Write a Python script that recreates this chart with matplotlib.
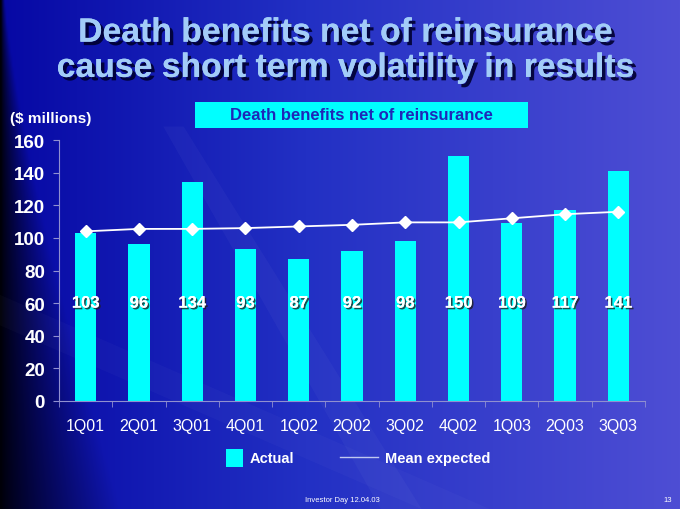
import numpy as np
import matplotlib.pyplot as plt
import matplotlib.patheffects as pe
from matplotlib.patches import Rectangle, Polygon
from matplotlib.lines import Line2D

plt.rcParams['font.family'] = ['Liberation Sans', 'DejaVu Sans']

# Datos
quarters = ['1Q01', '2Q01', '3Q01', '4Q01', '1Q02', '2Q02', '3Q02', '4Q02', '1Q03', '2Q03', '3Q03']
actual = [103, 96, 134, 93, 87, 92, 98, 150, 109, 117, 141]
mean_expected = [104, 105.5, 105.5, 106, 107, 108, 109.5, 109.5, 112, 114.5, 116]

cyan = '#00FFFF'
title_col = '#A2CCF8'

fig = plt.figure(figsize=(6.8, 5.1), dpi=100)

# Fondo degradado
bg = fig.add_axes([0, 0, 1, 1])
nx, ny = 340, 255
xx, yy = np.meshgrid(np.linspace(0, 1, nx), np.linspace(1, 0, ny))
c_left = np.array([0x06, 0x08, 0xA4]) / 255
c_mid = np.array([0x22, 0x30, 0xC4]) / 255
c_right = np.array([0x4E, 0x4E, 0xD4]) / 255
t = xx[..., None]
base = np.where(t < 0.45, c_left + (c_mid - c_left) * (t / 0.45),
                c_mid + (c_right - c_mid) * ((t - 0.45) / 0.55))
w = 0.006 + 0.17 * (1 - yy[..., None]) ** 1.3
dark = np.clip(xx[..., None] / w, 0, 1) ** 0.8
img = base * (0.05 + 0.95 * dark)
bg.imshow(img, aspect='auto', extent=[0, 1, 0, 1], interpolation='bilinear')
# vetas claras diagonales (suaves)
bg.add_patch(Polygon([[0.24, 0.75], [0.27, 0.75], [0.62, 0.0], [0.56, 0.0]],
                     closed=True, facecolor='white', alpha=0.03, edgecolor='none'))
bg.add_patch(Polygon([[0.0, 0.42], [0.0, 0.36], [0.62, 0.0], [0.72, 0.0]],
                     closed=True, facecolor='white', alpha=0.025, edgecolor='none'))
bg.set_xlim(0, 1)
bg.set_ylim(0, 1)
bg.axis('off')

# Titulo
shadow = [pe.withSimplePatchShadow(offset=(2.5, -2.5), shadow_rgbFace='#000030', alpha=0.9), pe.Normal()]
fig.text(0.508, 0.933, 'Death benefits net of reinsurance', ha='center', va='center',
         fontsize=24.3, fontweight='bold', color=title_col, path_effects=shadow)
fig.text(0.508, 0.864, 'cause short term volatility in results', ha='center', va='center',
         fontsize=24.3, fontweight='bold', color=title_col, path_effects=shadow)

# Caja
fig.patches.append(Rectangle((195 / 680, 1 - 129 / 510), 333 / 680, 26 / 510,
                             transform=fig.transFigure, facecolor=cyan, edgecolor='none'))
fig.text(361 / 680, 1 - 116 / 510, 'Death benefits net of reinsurance', ha='center', va='center',
         fontsize=12, fontweight='bold', color='#1E28B8')
fig.text(10 / 680, 1 - 119 / 510, '($ millions)', ha='left', va='center',
         fontsize=11, fontweight='bold', color='white')

# Grafico
ax = fig.add_axes([59 / 680, 108 / 510, 586 / 680, 261 / 510])
ax.set_facecolor('none')
x = np.arange(len(quarters))
ax.bar(x, actual, width=0.4, color=cyan, edgecolor='none', zorder=2)
ax.plot(x, mean_expected, color='white', lw=1.3, marker='D', markersize=6,
        markerfacecolor='white', markeredgecolor='white', zorder=3)

txt_shadow = [pe.withSimplePatchShadow(offset=(1.2, -1.2), shadow_rgbFace='#202020', alpha=0.8), pe.Normal()]
for xi, v in zip(x, actual):
    ax.text(xi, 60, str(v), ha='center', va='center', fontsize=12, fontweight='bold',
            color='white', path_effects=txt_shadow, zorder=4)

ax.set_xlim(-0.5, len(quarters) - 0.5)
ax.set_ylim(0, 160)
ax.set_yticks(range(0, 161, 20))
ax.set_yticklabels([str(v) for v in range(0, 161, 20)], fontsize=13.5, fontweight='bold', color='white')
ax.set_xticks(x)
ax.set_xticklabels(quarters, fontsize=11.5, color='white')
ax.set_xticks(np.arange(-0.5, len(quarters)), minor=True)
ax.tick_params(axis='x', which='major', length=0, pad=12)
ax.tick_params(axis='x', which='minor', length=4, color='#9090D0', direction='out')
ax.tick_params(axis='y', length=4, color='#9090D0', direction='out', pad=6)
for s in ['top', 'right']:
    ax.spines[s].set_visible(False)
for s in ['left', 'bottom']:
    ax.spines[s].set_color('#9090D0')
    ax.spines[s].set_linewidth(0.8)

# Leyenda
fig.patches.append(Rectangle((226 / 680, 1 - 468 / 510), 17 / 680, 18 / 510,
                             transform=fig.transFigure, facecolor=cyan, edgecolor='none'))
fig.text(250 / 680, 1 - 459 / 510, 'Actual', ha='left', va='center', fontsize=10.5,
         fontweight='bold', color='white')
fig.lines.append(Line2D([340 / 680, 378 / 680], [1 - 458 / 510] * 2, transform=fig.transFigure,
                        color='#C0C8F0', lw=1))
fig.text(385 / 680, 1 - 459 / 510, 'Mean expected', ha='left', va='center', fontsize=10.5,
         fontweight='bold', color='white')

# Pie
fig.text(305 / 680, 1 - 501 / 510, 'Investor Day 12.04.03', ha='left', va='center',
         fontsize=5.5, color='white')
fig.text(672 / 680, 1 - 501 / 510, '13', ha='right', va='center', fontsize=5.5, color='white')

fig.savefig('out.png', dpi=100)
